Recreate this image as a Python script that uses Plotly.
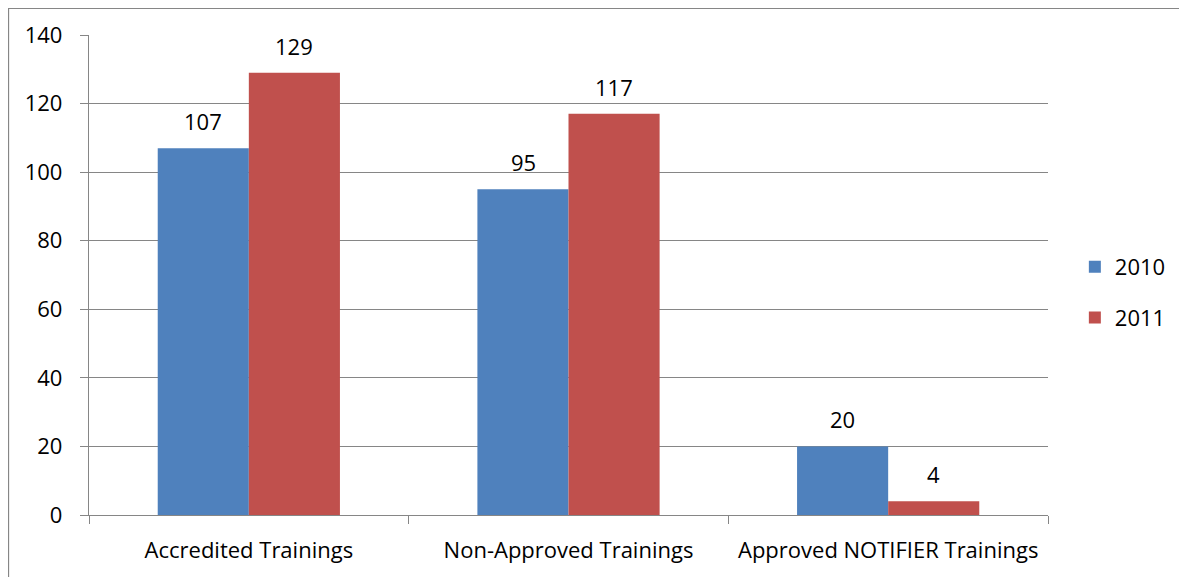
import plotly.graph_objects as go

categories = ["Accredited Trainings", "Non-Approved Trainings", "Approved NOTIFIER Trainings"]
series_names = ["2010", "2011"]
values_2010 = [107, 95, 20]
values_2011 = [129, 117, 4]
y_ticks = [0, 20, 40, 60, 80, 100, 120, 140]

colors = ["#4F81BD", "#C0504D"]
FONT = "Open Sans"
FS = 22

fig = go.Figure()
for name, vals, col in zip(series_names, [values_2010, values_2011], colors):
    fig.add_trace(go.Bar(
        name=name, x=categories, y=vals, legendgroup=name,
        marker=dict(color=col, line=dict(width=0)),
    ))

annotations = []
for vals, shift in zip([values_2010, values_2011], [-45.5, 45.5]):
    for c, v in zip(categories, vals):
        annotations.append(dict(
            x=c, y=v, xref="x", yref="y", text=str(v), showarrow=False,
            xshift=shift, yshift=27, font=dict(family=FONT, size=FS, color="#000000"),
        ))

fig.update_layout(
    width=1179, height=569,
    margin=dict(l=81, r=139, t=27, b=62),
    paper_bgcolor="white", plot_bgcolor="white",
    barmode="group", bargap=0.43, bargroupgap=0,
    font=dict(family=FONT, size=FS, color="#000000"),
    showlegend=True,
    legend=dict(x=1.028, y=0.4635, xanchor="left", yanchor="middle",
                font=dict(family=FONT, size=FS), traceorder="grouped",
                tracegroupgap=19, itemwidth=30),
    annotations=annotations,
    shapes=[dict(type="rect", xref="paper", yref="paper",
                 x0=-0.0839, x1=1.1439, y0=-0.3, y1=1.0552,
                 line=dict(color="#868686", width=1.2), layer="below")],
)
fig.update_xaxes(
    showline=True, linecolor="#868686", linewidth=1.3,
    ticks="outside", tickson="boundaries", ticklen=8, tickcolor="#868686", tickwidth=1.3,
    showgrid=False, ticklabelstandoff=15,
)
fig.update_yaxes(
    range=[0, 140], tickvals=y_ticks,
    showline=True, linecolor="#868686", linewidth=1.3,
    ticks="outside", ticklen=8, tickcolor="#868686", tickwidth=1.3,
    showgrid=True, gridcolor="#868686", gridwidth=1.3, zeroline=False,
    ticklabelstandoff=13,
)

fig.write_html("out.html")
